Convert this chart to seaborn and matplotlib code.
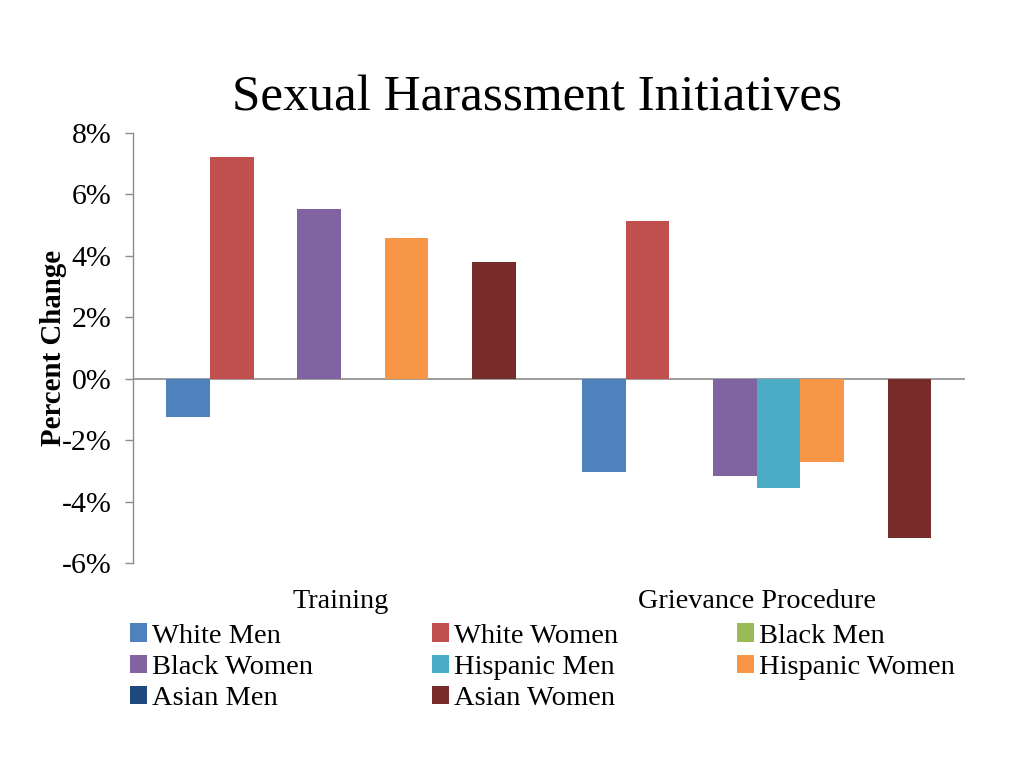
import matplotlib
matplotlib.use("Agg")
import matplotlib.pyplot as plt
import seaborn as sns
import pandas as pd

categories = ["Training", "Grievance Procedure"]
series = ["White Men", "White Women", "Black Men", "Black Women",
          "Hispanic Men", "Hispanic Women", "Asian Men", "Asian Women"]
training = [-1.24, 7.22, 0.0, 5.52, 0.0, 4.57, 0.0, 3.79]
grievance = [-3.04, 5.13, 0.0, -3.17, -3.56, -2.71, 0.0, -5.2]
colors = ["#4F81BD", "#C0504D", "#9BBB59", "#8064A2",
          "#4BACC6", "#F79646", "#1F497D", "#772C2A"]
yticks = [-6, -4, -2, 0, 2, 4, 6, 8]

rows = []
for s, t, g in zip(series, training, grievance):
    rows.append({"cat": categories[0], "series": s, "val": t})
    rows.append({"cat": categories[1], "series": s, "val": g})
df = pd.DataFrame(rows)

sns.set_theme(style="white")
plt.rcParams["font.family"] = ["Liberation Serif", "DejaVu Serif"]
plt.rcParams["text.color"] = "black"

fig = plt.figure(figsize=(10.24, 7.68), dpi=100)
ax = fig.add_axes([0.130, 0.267, 0.812, 0.560])

sns.barplot(data=df, x="cat", y="val", hue="series", order=categories,
            hue_order=series, palette=colors, width=0.84, linewidth=0,
            saturation=1, ax=ax, legend=True)

ax.set_xlim(-0.5, 1.5)
ax.set_ylim(-6, 8)
ax.set_yticks(yticks)
ax.set_yticklabels([f"{v}%" for v in yticks], fontsize=21.5, color="black")
ax.axhline(0, color="#8c8c8c", linewidth=1.2, zorder=0)
for sp in ["top", "right", "bottom"]:
    ax.spines[sp].set_visible(False)
ax.spines["left"].set_color("#8c8c8c")
ax.spines["left"].set_linewidth(1.0)
ax.tick_params(axis="y", which="major", left=True, length=6, width=1,
               color="#8c8c8c", pad=9.5)
ax.tick_params(axis="x", bottom=False, labelsize=20.3, pad=13, labelcolor="black")
ax.set_xlabel("")
ax.set_ylabel("Percent Change", fontsize=20.8, fontweight="bold", color="black")
ax.yaxis.set_label_coords(-0.079, 0.5)

fig.text(0.524, 0.873, "Sexual Harassment Initiatives", ha="center",
         va="center", fontsize=36.8, color="black")

handles, labels = ax.get_legend_handles_labels()
ax.get_legend().remove()
order = [0, 3, 6, 1, 4, 7, 2, 5]
fig.legend([handles[i] for i in order], [labels[i] for i in order],
           loc="upper left", bbox_to_anchor=(0.116, 0.203), ncol=3,
           frameon=False, fontsize=20.5, handlelength=0.6, handleheight=0.6,
           handletextpad=0.18, columnspacing=4.17, labelspacing=0.21,
           borderaxespad=0, labelcolor="black")

fig.savefig("out.png", dpi=100)
